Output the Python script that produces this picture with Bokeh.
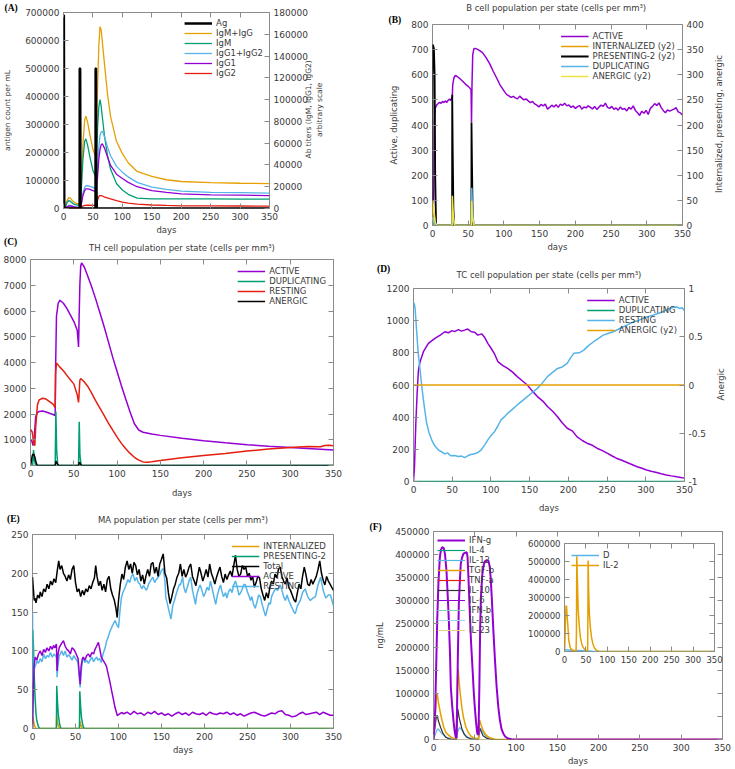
import math
from bokeh.plotting import figure
from bokeh.models import (Range1d, LinearAxis, FixedTicker, NumeralTickFormatter,
                          Legend, LegendItem, Title, Div)
from bokeh.layouts import row, column
from bokeh.embed import file_html
from bokeh.resources import INLINE

FONT = "DejaVu Sans"
SERIF = "Liberation Serif"
TXT = "#3a3a3a"
FRAME = "#8a8a8a"
PURPLE = "#9400d3"
GREEN = "#009e73"
LBLUE = "#56b4e9"
ORANGE = "#e69f00"
YELLOW = "#f0e442"
RED = "#e51e10"
BLACK = "#000000"
NB = "\u00a0"

# ---------------- tick labels ----------------
day_ticks = [0, 50, 100, 150, 200, 250, 300, 350]
a_left_ticks = [0, 100000, 200000, 300000, 400000, 500000, 600000, 700000]
a_right_ticks = [0, 20000, 40000, 60000, 80000, 100000, 120000, 140000, 160000, 180000]
b_left_ticks = [0, 100, 200, 300, 400, 500, 600, 700, 800]
b_right_ticks = [0, 50, 100, 150, 200, 250, 300, 350, 400]
c_ticks = [0, 1000, 2000, 3000, 4000, 5000, 6000, 7000, 8000]
d_left_ticks = [0, 200, 400, 600, 800, 1000, 1200]
d_right_ticks = [-1, -0.5, 0, 0.5, 1]
e_ticks = [0, 50, 100, 150, 200, 250]
f_ticks = [0, 50000, 100000, 150000, 200000, 250000, 300000, 350000, 400000, 450000]
inset_ticks = [0, 100000, 200000, 300000, 400000, 500000, 600000]

# ---------------- (A) antigen and antibodies: (day, value) ----------------
a_ag = [(0, 690000), (0.6, 690000), (1.3, 0), (27.4, 0), (27.6, 500000), (28.3, 500000), (28.9, 0),
        (54.4, 0), (54.6, 500000), (55.2, 500000), (55.7, 100000), (56.6, 0), (350, 0)]
a_igm_igg = [(0, 0), (3, 1200), (6, 7300), (9, 10100), (12, 9300), (16, 6700), (20, 5200), (24, 4300),
             (27, 4600), (28, 4600), (30, 18800), (33, 59200), (36, 81300), (38, 84800), (41, 79100),
             (45, 67400), (50, 54400), (54, 48300), (55, 47800), (56, 65500), (58, 113000), (60, 149000),
             (62, 167000), (64, 164000), (66, 153000), (70, 130500), (75, 104000), (80, 84400), (90, 61700),
             (100, 50400), (110, 42000), (125, 34000), (150, 29500), (175, 26400), (200, 24800),
             (250, 23700), (300, 23200), (350, 22800)]
a_igm = [(0, 0), (3, 1000), (6, 5500), (9, 7300), (12, 6500), (16, 4500), (20, 3500), (24, 3000),
         (27, 3500), (28, 3500), (30, 15000), (33, 45000), (36, 62000), (38, 64000), (41, 58000),
         (45, 47000), (50, 35000), (54, 30000), (55, 30000), (56, 45000), (58, 75000), (60, 93000),
         (62, 100000), (64, 94000), (66, 84000), (70, 65000), (75, 48000), (80, 36000), (90, 23000),
         (100, 17000), (110, 13000), (125, 9500), (150, 8900), (175, 8800), (200, 8800), (250, 8800),
         (300, 8700), (350, 8700)]
a_igg12 = [(0, 0), (3, 200), (6, 1800), (9, 2800), (12, 2800), (16, 2200), (20, 1700), (24, 1300),
           (27, 1100), (28, 1100), (30, 3800), (33, 14200), (36, 19300), (38, 20800), (41, 21100),
           (45, 20400), (50, 19400), (54, 18300), (55, 17800), (56, 20500), (58, 38000), (60, 56000),
           (62, 67000), (64, 70300), (66, 70900), (70, 65500), (75, 56000), (80, 48400), (90, 38700),
           (100, 33400), (110, 29000), (125, 24000), (150, 19700), (175, 17600), (200, 16000),
           (250, 14900), (300, 14500), (350, 14100)]
a_igg1 = [(0, 0), (3, 200), (6, 1500), (9, 2300), (12, 2300), (16, 1800), (20, 1300), (24, 1000),
          (27, 800), (28, 800), (30, 3000), (33, 12000), (36, 16500), (38, 18000), (41, 18100),
          (45, 17500), (50, 16500), (54, 15500), (55, 15000), (56, 17000), (58, 30000), (60, 45000),
          (62, 54000), (64, 58500), (66, 59400), (70, 55000), (75, 47000), (80, 39500), (90, 31500),
          (100, 27500), (110, 24000), (125, 20000), (150, 16500), (175, 14800), (200, 13500),
          (250, 12500), (300, 12200), (350, 11900)]
a_igg2 = [(0, 0), (6, 300), (9, 500), (12, 500), (20, 400), (27, 300), (28, 300), (30, 800), (33, 2200),
          (36, 2800), (41, 3000), (50, 2900), (54, 2800), (56, 3500), (58, 8000), (60, 11000), (62, 11900),
          (64, 11800), (66, 11500), (70, 10500), (80, 8900), (90, 7200), (100, 5900), (110, 5000),
          (125, 4000), (150, 3200), (175, 2800), (200, 2500), (250, 2400), (300, 2300), (350, 2200)]

# ---------------- (B) B cells ----------------
b_active = [(0, 30), (1, 60), (2, 150), (2.8, 420), (4, 468), (6, 480), (8, 486), (10, 490), (12, 486),
            (14, 494), (16, 489), (18, 496), (20, 490), (22, 499), (24, 503), (25.5, 497), (27, 508),
            (27.6, 500), (28.3, 560), (30, 588), (32, 597), (34, 594), (37, 588), (40, 580), (43, 572),
            (46, 563), (49, 556), (52, 548), (54, 540), (54.6, 410), (55.3, 560), (56.3, 680), (58, 704),
            (60, 705), (63, 701), (66, 696), (70, 688), (75, 668), (80, 644), (85, 614), (90, 586),
            (94, 562), (98, 545), (101, 532), (104, 521), (107, 516), (110, 510), (113, 514), (116, 508),
            (119, 504), (122, 515), (125, 507), (128, 500), (131, 504), (134, 496), (137, 489), (140, 494),
            (143, 484), (146, 479), (149, 472), (152, 482), (155, 476), (158, 483), (161, 463), (164, 470),
            (167, 479), (170, 472), (173, 481), (176, 470), (179, 483), (182, 478), (185, 487), (188, 476),
            (191, 480), (194, 470), (197, 476), (200, 466), (203, 473), (206, 477), (209, 463), (212, 472),
            (215, 468), (218, 476), (221, 470), (224, 464), (227, 474), (230, 462), (233, 471), (236, 479),
            (239, 474), (242, 487), (245, 470), (248, 466), (251, 474), (254, 462), (257, 468), (260, 459),
            (263, 472), (266, 462), (269, 466), (272, 456), (275, 470), (278, 463), (281, 476), (284, 458),
            (287, 449), (290, 438), (293, 455), (296, 447), (299, 458), (302, 442), (305, 466), (308, 474),
            (311, 485), (314, 478), (317, 488), (320, 470), (323, 458), (326, 449), (329, 460), (332, 455),
            (335, 459), (338, 463), (341, 469), (344, 452), (347, 448), (350, 440)]
b_present = [(0, 0), (0.2, 360), (1, 358), (2, 352), (3, 300), (3.8, 100), (5, 0), (27.4, 0), (27.6, 260),
             (28.3, 150), (29.3, 30), (30.5, 0), (54.4, 0), (54.6, 205), (55.3, 120), (56.3, 20),
             (57.5, 0), (350, 0)]
b_dup = [(0, 0), (0.5, 33), (2, 18), (4, 0), (27.5, 0), (28, 60), (29, 28), (31, 0), (54.5, 0), (55, 150),
         (56, 60), (58, 0), (350, 0)]
b_anergic = [(0, 0), (0.5, 49), (2, 30), (4, 6), (6, 0), (27.5, 0), (27.8, 59), (29, 22), (31, 0),
             (54.5, 0), (54.8, 49), (56, 15), (58, 0), (350, 0)]
b_intern = [(0, 0), (0.5, 15), (2, 10), (4, 0), (27.5, 0), (27.8, 12), (29, 3), (30.5, 0), (54.5, 0),
            (54.8, 10), (56, 3), (57.5, 0), (350, 0)]

# ---------------- (C) TH cells ----------------
c_active = [(0, 1000), (1.5, 950), (3, 780), (4.5, 1200), (6, 1900), (8, 2050), (10, 2100), (14, 2120),
            (18, 2080), (22, 2030), (26, 1980), (28.5, 1940), (29, 3800), (30, 5800), (32, 6300),
            (34, 6420), (38, 6300), (42, 6100), (46, 5850), (50, 5600), (54, 5250), (55.5, 4600),
            (56, 5500), (57, 7000), (58, 7750), (59, 7870), (62, 7720), (65, 7460), (70, 7000), (75, 6500),
            (80, 5950), (85, 5400), (90, 4800), (95, 4200), (100, 3650), (105, 3100), (110, 2580),
            (115, 2080), (120, 1620), (125, 1380), (130, 1290), (140, 1220), (150, 1170), (175, 1060),
            (200, 960), (225, 880), (250, 810), (275, 750), (300, 700), (325, 650), (350, 600)]
c_resting = [(0, 1400), (2, 1300), (4, 800), (5, 780), (6, 1500), (8, 2350), (10, 2550), (14, 2610),
             (18, 2580), (22, 2480), (26, 2380), (28.5, 2250), (29, 3600), (30, 3980), (34, 3820),
             (38, 3680), (42, 3500), (46, 3330), (50, 3170), (54, 2750), (55.5, 2450), (56, 2700),
             (57, 3300), (58, 3380), (62, 3250), (66, 3080), (70, 2850), (75, 2530), (80, 2240), (85, 1950),
             (90, 1650), (95, 1370), (100, 1100), (105, 860), (110, 650), (115, 470), (120, 320), (125, 210),
             (130, 140), (135, 130), (140, 145), (150, 190), (175, 300), (200, 390), (225, 470), (250, 560),
             (275, 640), (300, 700), (320, 740), (335, 730), (340, 780), (345, 790), (350, 770)]
c_dup = [(0, 0), (2.5, 0), (3.5, 600), (4.5, 200), (6, 0), (28.5, 0), (29.3, 2100), (30.2, 600), (31.5, 0),
         (55.5, 0), (56.3, 1700), (57.1, 400), (58.5, 0), (350, 0)]
c_anergic = [(0, 0), (1, 150), (2, 380), (3, 440), (4, 430), (5, 330), (6, 180), (7, 60), (8, 0),
             (28.5, 0), (29.5, 170), (31, 60), (32.5, 0), (55.5, 0), (56.5, 130), (58, 40), (59.5, 0),
             (350, 0)]

# ---------------- (D) TC cells ----------------
d_active = [(0, 0), (1.3, 93), (3, 362), (4.7, 548), (6.4, 693), (8.5, 745), (12.8, 807), (19.2, 859),
            (27.7, 890), (35, 912), (40.5, 931), (45, 925), (50, 938), (53, 932), (58, 944), (62, 935),
            (66, 941), (70, 948), (74.7, 931), (79, 928), (83, 910), (88, 918), (92, 895), (96, 859),
            (100, 830), (105, 790), (109, 745), (115, 722), (121.6, 703), (128, 680), (134, 652), (140, 628),
            (147, 600), (153, 565), (160, 528), (167, 500), (173, 466), (180, 435), (186, 403), (192, 365),
            (198.5, 331), (205, 315), (211, 279), (218, 255), (224, 238), (231, 225), (237, 207), (244, 192),
            (250, 176), (256, 160), (262, 145), (269, 132), (275, 120), (282, 106), (288, 93), (295, 82),
            (301, 72), (307, 64), (314, 56), (320, 48), (326.5, 41), (333, 35), (340, 29), (345, 25),
            (350, 21)]
d_resting = [(0, 1110), (1, 1105), (2, 1080), (4.3, 921), (6, 800), (8.5, 693), (10.5, 600), (12.8, 507),
             (15, 430), (17, 362), (20, 305), (23.5, 259), (27, 225), (32, 197), (36, 185), (40.5, 172),
             (44, 178), (48, 160), (53, 162), (58, 155), (62, 158), (66, 148), (70, 160), (74, 168),
             (79, 172), (83, 180), (87.5, 197), (92, 228), (96, 259), (100, 285), (104.6, 310), (109, 345),
             (113, 383), (117, 400), (121.6, 424), (128, 450), (134, 476), (140, 500), (147, 528),
             (153, 552), (160, 579), (166, 610), (173, 652), (180, 680), (186, 703), (192, 712),
             (198.5, 734), (203, 770), (207, 797), (214, 800), (220, 817), (226, 845), (232.6, 869),
             (239, 890), (245, 910), (251, 920), (258, 931), (264, 945), (271, 962), (277, 975), (284, 993),
             (290, 1000), (296.6, 1014), (303, 1025), (309, 1034), (316, 1045), (322, 1055), (328, 1070),
             (335, 1082), (340, 1085), (343.6, 1076), (347, 1080), (350, 1061)]
d_dup = [(0, 0), (350, 0)]
d_anergic = [(0, 0), (350, 0)]

# ---------------- (E) macrophages ----------------
e_total = [(0, 195), (1, 180), (2, 165), (3, 168), (4, 162), (6, 172), (8, 168), (9, 176), (11, 170),
           (13, 180), (15, 176), (17, 186), (19, 180), (21, 190), (23, 185), (25, 193), (27, 188), (29, 205),
           (30.5, 216), (32, 205), (34, 210), (36, 200), (38, 196), (40, 190), (42, 198), (44, 192),
           (46, 205), (48, 210), (50, 188), (52, 176), (54, 180), (56, 170), (58, 178), (60, 172), (62, 180),
           (64, 176), (66, 184), (68, 180), (70, 188), (72, 194), (73.5, 210), (75, 196), (77, 184),
           (79, 190), (81, 178), (83, 186), (85, 176), (87, 192), (89, 196), (91, 180), (93, 172), (95, 166),
           (97, 155), (98.5, 143), (100, 165), (102, 185), (104, 199), (106, 192), (108, 208), (110, 216),
           (112, 205), (114, 212), (116, 200), (118, 214), (120, 210), (122, 198), (124, 205), (126, 190),
           (128, 198), (130, 186), (132, 197), (134, 205), (136, 196), (138, 212), (140, 214), (142, 200),
           (144, 208), (146, 196), (148, 212), (150, 218), (152, 225), (154, 200), (156, 194), (158, 175),
           (160, 161), (162, 170), (164, 180), (166, 186), (168, 195), (170, 200), (172, 212), (174, 196),
           (176, 205), (178, 195), (180, 200), (182, 208), (184, 212), (186, 196), (188, 190), (190, 184),
           (192, 196), (194, 208), (196, 200), (198, 190), (200, 197), (202, 205), (204, 195), (206, 212),
           (208, 200), (210, 194), (212, 186), (214, 195), (216, 202), (218, 208), (220, 196), (222, 188),
           (224, 199), (226, 192), (228, 198), (230, 203), (232, 196), (234, 210), (236, 223), (238, 205),
           (240, 196), (242, 199), (244, 210), (246, 205), (248, 208), (250, 196), (252, 200), (254, 191),
           (256, 196), (258, 182), (260, 188), (262, 196), (264, 194), (266, 180), (268, 172), (270, 165),
           (272, 175), (274, 168), (276, 182), (278, 190), (280, 186), (282, 199), (284, 194), (286, 205),
           (288, 208), (290, 196), (292, 190), (294, 186), (296, 194), (298, 182), (300, 178), (302, 172),
           (304, 166), (306, 163), (308, 175), (310, 186), (312, 180), (314, 196), (316, 208), (318, 198),
           (320, 186), (322, 184), (324, 192), (326, 186), (328, 191), (330, 196), (332, 205), (334, 216),
           (336, 200), (338, 191), (340, 185), (342, 196), (344, 190), (346, 186), (348, 182), (350, 178)]
e_resting = [(0, 150), (0.6, 60), (1.4, 74), (3, 80), (5.3, 87), (7, 84), (9, 90), (11, 86), (13, 96),
             (15, 90), (17, 94), (19, 92), (20.8, 98), (23, 92), (25, 96), (27.8, 92), (28.6, 66),
             (29.5, 80), (31, 94), (32.5, 96), (34, 100), (36, 94), (38, 100), (40, 92), (42, 95), (44, 92),
             (46, 88), (48, 94), (50, 90), (51.5, 88), (53, 84), (55.4, 53), (56.5, 72), (58, 86), (59, 92),
             (61, 85), (63, 88), (65, 84), (67, 88), (69, 92), (71, 86), (73, 90), (74.6, 92), (76, 88),
             (78, 90), (80, 85), (82, 96), (84.5, 104), (86, 112), (88, 118), (90.3, 126), (92, 130),
             (94, 135), (96, 139), (98, 134), (100, 130), (102, 155), (103.5, 169), (105, 175), (107, 180),
             (109, 186), (111, 192), (113, 188), (115, 196), (117, 199), (119, 190), (121, 195), (123, 188),
             (125, 186), (127, 180), (129, 184), (132.5, 178), (135, 186), (137, 190), (140, 195),
             (142, 188), (144, 192), (146, 195), (148, 198), (150, 204), (152, 206), (154, 190), (155, 169),
             (157, 160), (159, 150), (161, 141), (163, 158), (165, 165), (167, 173), (169, 180), (171, 186),
             (172, 185), (174.6, 195), (176, 182), (178, 175), (180, 182), (182, 190), (184, 195),
             (186, 178), (188, 168), (189.5, 160), (191, 172), (193, 180), (195, 185), (197, 178),
             (199, 170), (201, 175), (203, 182), (205, 178), (207, 190), (209, 180), (211, 170), (213, 160),
             (215, 172), (217, 180), (218.7, 185), (220, 178), (222, 170), (224.5, 175), (226, 168),
             (228, 176), (230, 180), (232, 175), (234, 185), (236, 190), (238, 182), (240, 172), (242, 175),
             (244, 180), (246, 186), (247.6, 185), (250, 176), (252, 170), (253.5, 165), (255, 170),
             (257, 160), (259, 155), (261, 163), (263, 172), (265, 170), (267, 160), (269, 152), (271, 145),
             (273, 154), (275, 162), (276.5, 160), (278, 170), (280, 175), (282.5, 180), (285, 178),
             (288, 185), (290, 178), (292, 170), (294, 165), (296, 172), (298, 165), (300, 160), (302, 155),
             (304, 150), (305.6, 148), (308, 158), (311.4, 165), (314, 175), (317, 180), (320, 170),
             (323, 165), (326, 168), (329, 170), (332, 185), (335, 195), (338, 178), (341, 168), (344, 172),
             (346.5, 172), (348, 166), (350, 158)]
e_active = [(0, 0), (0.8, 40), (1.8, 80), (3.1, 92), (5, 88), (7, 96), (9, 100), (11, 94), (13, 102),
            (15, 98), (16.7, 104), (19, 100), (21, 106), (23, 102), (24.5, 107), (26, 104), (27.8, 109),
            (28.6, 74), (29.6, 95), (31, 104), (32.5, 107), (34, 110), (36, 113), (38, 106), (40, 102),
            (42, 100), (44, 96), (46, 104), (48, 102), (50, 98), (51.5, 94), (53, 90), (55.4, 57),
            (56.5, 80), (58, 90), (59, 92), (61, 88), (63, 94), (65, 96), (67, 92), (69, 98), (71, 96),
            (72.7, 102), (74.5, 106), (76.6, 111), (78, 104), (80, 92), (82, 88), (84.5, 83.5), (86, 80),
            (88, 70), (90, 60), (92, 48.7), (94, 38), (96, 27), (98.7, 16.4), (100, 18), (103.5, 20.6),
            (106, 19), (110, 21), (114, 18), (118, 22), (122, 19), (126, 20), (130, 17), (134, 21),
            (138, 19), (142, 22), (146, 18), (150, 20), (154, 17), (158, 19), (162, 16), (166, 19),
            (170, 21), (174, 18), (178, 20), (182, 17), (186, 21), (190, 19), (194, 18), (198, 20),
            (202, 17), (206, 21), (210, 19), (214, 18), (218, 20), (222, 19), (226, 21), (230, 18),
            (234, 20), (238, 17), (242, 19), (246, 16), (250, 18), (254, 20), (258, 21), (262, 19),
            (266, 17), (270, 16), (274, 18), (278, 20), (282, 19), (286, 22), (290, 23), (294, 18),
            (298, 17), (302, 15), (306, 16), (310, 19), (314, 21), (318, 18), (322, 19), (326, 20),
            (330, 21), (334, 18), (338, 21), (342, 19), (346, 17), (350, 17)]
e_present = [(0, 0), (0.3, 127), (1, 110), (2, 70), (3, 40), (4, 20), (5, 10), (7, 2), (9, 0), (27.8, 0),
             (28.2, 55), (29, 35), (30, 18), (31.5, 6), (33, 0), (54.6, 0), (55, 48), (56, 28), (57, 14),
             (58.5, 4), (60, 0), (350, 0)]
e_intern = [(0, 0), (0.5, 15), (1.5, 8), (2.5, 3), (4, 0), (27.8, 0), (28.2, 17), (29, 8), (30.5, 2),
            (32, 0), (54.6, 0), (55, 10), (56, 5), (57.5, 1), (59, 0), (350, 0)]

# ---------------- (F) cytokines ----------------
f_ifng = [(0, 0), (2, 60000), (4.5, 257000), (6, 340000), (7.7, 394000), (9, 410000), (10.5, 416000),
          (12.5, 414000), (14, 400000), (15.7, 365600), (17, 320000), (18.6, 257000), (20, 185000),
          (21, 113000), (22.5, 75000), (24.2, 41000), (25.5, 20000), (26.9, 5000), (27.8, 3000),
          (28.5, 60000), (29.5, 180000), (30.7, 294000), (32, 345000), (33, 380000), (34.5, 393000),
          (36.3, 402000), (38.5, 404000), (40.3, 405000), (41.2, 395000), (42, 365000), (43, 320000),
          (44, 272000), (45.5, 210000), (47.4, 149000), (48.7, 105000), (50, 70000), (51.5, 38000),
          (53, 13000), (54.5, 10000), (55.5, 110000), (56.5, 240000), (57.5, 310000), (59, 355000),
          (60.5, 375000), (62, 385000), (64, 388000), (66.5, 387000), (68, 375000), (69.2, 351000),
          (70.5, 310000), (72.5, 236000), (74.5, 170000), (76.5, 113000), (78.5, 70000), (80.5, 41000),
          (82.5, 22000), (84.5, 13000), (87, 6000), (90.6, 2000), (95, 0), (350, 0)]
f_tgfb = [(0, 0), (2, 50000), (3.5, 90000), (4.5, 100000), (6, 80000), (8.5, 56000), (10.5, 40000),
          (12.5, 26600), (15, 15000), (18.6, 9000), (22, 4000), (27.5, 1000), (28.2, 60000),
          (29.2, 140000), (29.9, 153000), (31, 125000), (32.4, 99500), (34.3, 70000), (36.3, 48000),
          (39, 28000), (42, 15800), (45, 8000), (48, 4000), (54.5, 1500), (55.3, 30000), (56, 42600),
          (57.5, 32000), (60, 19500), (63, 11000), (66, 6000), (70, 2500), (75, 0), (350, 0)]
f_il10 = [(0, 0), (2, 30000), (3.5, 50000), (4.5, 52000), (6, 40000), (8.5, 26600), (11, 15000),
          (14.6, 5000), (18, 2000), (22, 500), (27.8, 0), (28.5, 30000), (29.5, 65600), (31, 48000),
          (34.3, 24000), (37, 12000), (40, 5000), (45, 1500), (54.5, 500), (55.3, 26600), (56.5, 22000),
          (60, 8000), (64, 3000), (68, 1000), (72, 0), (350, 0)]
f_il12 = [(0, 0), (2, 10000), (4, 20000), (5.3, 23000), (7, 20000), (9, 15000), (12, 10000), (16, 5000),
          (20, 2000), (25, 800), (27.8, 500), (29, 15000), (31.5, 26000), (34, 22000), (38, 10000),
          (42, 5000), (46, 2000), (54.5, 1000), (55.5, 15000), (57, 24000), (60, 15000), (64, 6000),
          (70, 1500), (76, 0), (350, 0)]
f_flat = [(0, 0), (350, 0)]
inset_il2 = [(0, 0), (1, 50000), (2.5, 200000), (3.5, 250000), (4.7, 254500), (6, 200000), (7.5, 154000),
             (10, 61300), (13, 25000), (15, 14900), (20, 5000), (27, 2000), (27.8, 100000), (28.7, 529400),
             (30, 400000), (32, 228500), (34.5, 140000), (37, 79900), (40, 45000), (43, 24100), (48, 8000),
             (54, 3000), (54.6, 200000), (55.1, 505000), (56.5, 330000), (58, 210000), (60.5, 130000),
             (63, 79000), (66, 45000), (70, 20000), (75, 6000), (80, 1500), (90, 0), (350, 0)]
inset_d = [(0, 10000), (10, 8000), (20, 6000), (30, 5000), (45, 3500), (55, 3000), (65, 1500), (80, 300),
           (100, 0), (350, 0)]


# ---------------- helpers ----------------
def xy(pairs):
    return [p[0] for p in pairs], [p[1] for p in pairs]


def style_axis(ax, ticks, fmt, tick_size="9px", label_size="8.5px"):
    ax.ticker = FixedTicker(ticks=ticks)
    ax.formatter = NumeralTickFormatter(format=fmt)
    ax.major_tick_in = 5
    ax.major_tick_out = 0
    ax.major_tick_line_color = FRAME
    ax.minor_tick_line_color = None
    ax.axis_line_color = None
    ax.major_label_text_font = FONT
    ax.major_label_text_font_size = tick_size
    ax.major_label_text_color = TXT
    ax.major_label_standoff = 4
    ax.axis_label_text_font = FONT
    ax.axis_label_text_font_size = label_size
    ax.axis_label_text_font_style = "normal"
    ax.axis_label_text_color = TXT
    ax.axis_label_standoff = 3


def mirror(p, side, ticks, range_name=None):
    kw = {"y_range_name": range_name} if range_name else {}
    ax = LinearAxis(**kw)
    style_axis(ax, ticks, "0")
    ax.major_label_overrides = {t: "" for t in ticks}
    ax.major_label_text_font_size = "0px"
    ax.major_label_standoff = 0
    p.add_layout(ax, side)


def add_title(p, text, align="center", offset=0, tag=False, standoff=0, valign="bottom"):
    t = Title(text=text, align=align, offset=offset, standoff=standoff, vertical_align=valign,
              text_font=SERIF if tag else FONT,
              text_font_size="9.5px" if tag else "8.5px",
              text_font_style="bold" if tag else "normal",
              text_color="#000000" if tag else TXT)
    p.add_layout(t, "above")


def tag_div(text, mt, ml):
    h = 12
    return Div(text=text, width=24, height=h, margin=(mt, 0, -(mt + h), ml),
               styles={"font-family": SERIF, "font-weight": "bold", "font-size": "9.5px",
                       "line-height": "12px", "color": "#000000"})


def base_fig(w, h, ymin, ymax, yticks, yfmt, borders, ylabel=None, mirror_right=True, days_standoff=2):
    l, r, t, b = borders
    p = figure(width=w, height=h, x_range=Range1d(0, 350), y_range=Range1d(ymin, ymax),
               output_backend="svg", toolbar_location=None,
               min_border_left=l, min_border_right=r, min_border_top=t, min_border_bottom=b)
    try:
        p.frame_align = False
    except Exception:
        pass
    p.xgrid.grid_line_color = None
    p.ygrid.grid_line_color = None
    p.outline_line_color = FRAME
    p.outline_line_width = 1
    p.background_fill_color = "white"
    p.border_fill_color = "white"
    style_axis(p.xaxis[0], day_ticks, "0")
    p.xaxis[0].axis_label = "days"
    p.xaxis[0].axis_label_standoff = days_standoff
    style_axis(p.yaxis[0], yticks, yfmt)
    if ylabel:
        p.yaxis[0].axis_label = ylabel
    mirror(p, "above", day_ticks)
    if mirror_right:
        mirror(p, "right", yticks)
    return p


def add_right(p, name, lo, hi, ticks, fmt, label, standoff=8, label_size="8.5px"):
    p.extra_y_ranges = {name: Range1d(lo, hi)}
    ax = LinearAxis(y_range_name=name)
    style_axis(ax, ticks, fmt, label_size=label_size)
    ax.axis_label = label
    ax.axis_label_standoff = standoff
    try:
        ax.axis_label_orientation = math.pi / 2
    except Exception:
        pass
    try:
        ax.axis_label_align = "start"
    except Exception:
        pass
    p.add_layout(ax, "right")


def line(p, pairs, color, width=1.5, range_name=None):
    xs, ys = xy(pairs)
    kw = {"y_range_name": range_name} if range_name else {}
    return p.line(xs, ys, line_color=color, line_width=width, **kw)


def legend(p, entries, location, margin, level=None):
    items = [LegendItem(label=lab, renderers=[r]) for lab, r in entries]
    lg = Legend(items=items, location=location, margin=margin, padding=1, spacing=0,
                label_text_font=FONT, label_text_font_size="8.5px", label_text_color=TXT,
                label_text_line_height=1.0, glyph_width=28, glyph_height=10, label_height=10,
                label_standoff=4, background_fill_alpha=0, border_line_alpha=0)
    if level:
        lg.level = level
    p.add_layout(lg)


# ---------------- (A) ----------------
pA = base_fig(365, 237, 0, 700000, a_left_ticks, "0", (61, 96, 12, 29), mirror_right=False)
pA.yaxis[0].axis_label = "antigen count per mL"
pA.yaxis[0].axis_label_text_font_size = "7.5px"
pA.yaxis[0].axis_label_standoff = 10
add_right(pA, "ab", 0, 180000, a_right_ticks, "0",
          NB * 21 + "Ab titers (IgM, IgG1, IgG2)\n" + NB * 30 + "arbitrary scale",
          standoff=3, label_size="7.5px")
add_title(pA, "(A)", "left", -59, tag=True)
rA2 = line(pA, a_igm_igg, ORANGE, 1.3, "ab")
rA3 = line(pA, a_igm, GREEN, 1.3, "ab")
rA4 = line(pA, a_igg12, LBLUE, 1.3, "ab")
rA5 = line(pA, a_igg1, PURPLE, 1.3, "ab")
rA6 = line(pA, a_igg2, RED, 1.3, "ab")
rA1 = line(pA, a_ag, BLACK, 2.5)
legend(pA, [("Ag", rA1), ("IgM+IgG", rA2), ("IgM", rA3), ("IgG1+IgG2", rA4), ("IgG1", rA5),
            ("IgG2", rA6)], "top_right", 5)

# ---------------- (B) ----------------
pB = base_fig(369, 262, 0, 800, b_left_ticks, "0", (67, 52, 22, 37),
              ylabel="Active, duplicating", mirror_right=False)
pB.yaxis[0].axis_label_standoff = 9
add_right(pB, "y2", 0, 400, b_right_ticks, "0", NB * 12 + "Internalized, presenting, anergic",
          standoff=12)
add_title(pB, "(B)", "left", -44, tag=True)
add_title(pB, "B cell population  per state (cells per mm\u00b3)")
rB1 = line(pB, b_active, PURPLE, 1.5)
rB2 = line(pB, b_intern, ORANGE, 1.5, "y2")
rB3 = line(pB, b_present, BLACK, 1.8, "y2")
rB4 = line(pB, b_dup, LBLUE, 1.5)
rB5 = line(pB, b_anergic, YELLOW, 1.5, "y2")
legend(pB, [("ACTIVE", rB1), ("INTERNALIZED (y2)", rB2), ("PRESENTING-2 (y2)", rB3),
            ("DUPLICATING", rB4), ("ANERGIC (y2)", rB5)], "top_right", 6)

# ---------------- (C) ----------------
pC = base_fig(365, 263, 0, 8000, c_ticks, "0", (30, 32, 22, 33), days_standoff=8)
add_title(pC, "TH cell population per state (cells per mm\u00b3)", standoff=10, valign="top")
rC1 = line(pC, c_active, PURPLE, 1.5)
rC2 = line(pC, c_dup, GREEN, 1.5)
rC3 = line(pC, c_resting, RED, 1.5)
rC4 = line(pC, c_anergic, BLACK, 1.5)
legend(pC, [("ACTIVE", rC1), ("DUPLICATING", rC2), ("RESTING", rC3), ("ANERGIC", rC4)],
       "top_right", 6)

# ---------------- (D) ----------------
pD = base_fig(369, 253, 0, 1200, d_left_ticks, "0", (48, 47, 26, 33), mirror_right=False,
              days_standoff=7)
add_right(pD, "y2", -1, 1, d_right_ticks, "0.[0]", NB * 30 + "Anergic", standoff=12)
add_title(pD, "TC cell population per state (cells per mm\u00b3)", standoff=14, valign="top")
rD1 = line(pD, d_active, PURPLE, 1.5)
rD2 = line(pD, d_dup, GREEN, 1.5)
rD3 = line(pD, d_resting, LBLUE, 1.5)
rD4 = line(pD, d_anergic, ORANGE, 1.5, "y2")
legend(pD, [("ACTIVE", rD1), ("DUPLICATING", rD2), ("RESTING", rD3), ("ANERGIC (y2)", rD4)],
       "top_right", 6)

# ---------------- (E) ----------------
pE = base_fig(365, 268, 0, 250, e_ticks, "0", (32, 32, 34, 40))
add_title(pE, "MA population per state (cells per mm\u00b3)", standoff=16, valign="top")
rE1 = line(pE, e_intern, ORANGE, 1.5)
rE2 = line(pE, e_present, GREEN, 1.5)
rE5 = line(pE, e_resting, LBLUE, 1.5)
rE4 = line(pE, e_active, PURPLE, 1.5)
rE3 = line(pE, e_total, BLACK, 1.5)
legend(pE, [("INTERNALIZED", rE1), ("PRESENTING-2", rE2), ("Total", rE3), ("ACTIVE", rE4),
            ("RESTING", rE5)], "top_right", 6, level="underlay")

# ---------------- (F) ----------------
pF = base_fig(369, 253, 0, 450000, f_ticks, "0", (68, 12, 16, 29), ylabel="ng/mL")
pF.yaxis[0].axis_label_standoff = 7
add_title(pF, "(F)", "left", -64, tag=True)
rF4 = line(pF, f_flat, GREEN, 1.2)
rF5 = line(pF, f_flat, RED, 1.2)
rF7 = line(pF, f_flat, PURPLE, 1.0)
rF8 = line(pF, f_flat, "#7fcfb0", 1.0)
rF9 = line(pF, f_flat, "#9fd3f2", 1.0)
rF10 = line(pF, f_flat, "#f3cf80", 1.0)
rF3 = line(pF, f_il12, LBLUE, 1.2)
rF6 = line(pF, f_il10, "#333333", 1.2)
rF2 = line(pF, f_tgfb, ORANGE, 1.5)
rF1 = line(pF, f_ifng, PURPLE, 2.0)
legend(pF, [("IFN-g", rF1), ("IL-4", rF4), ("IL-12", rF3), ("TGF-b", rF2), ("TNF-a", rF5),
            ("IL-10", rF6), ("IL-6", rF7), ("IFN-b", rF8), ("IL-18", rF9), ("IL-23", rF10)],
       "top_left", 3)

# inset (overlaid on F)
pI = figure(width=199, height=130, x_range=Range1d(0, 350), y_range=Range1d(0, 600000),
            output_backend="svg", toolbar_location=None,
            min_border_left=39, min_border_right=10, min_border_top=5, min_border_bottom=17)
try:
    pI.frame_align = False
except Exception:
    pass
pI.xgrid.grid_line_color = None
pI.ygrid.grid_line_color = None
pI.outline_line_color = FRAME
pI.background_fill_color = "white"
pI.border_fill_alpha = 0
style_axis(pI.xaxis[0], day_ticks, "0", tick_size="8.5px")
style_axis(pI.yaxis[0], inset_ticks, "0", tick_size="8.5px")
mirror(pI, "above", day_ticks)
mirror(pI, "right", inset_ticks)
rI1 = line(pI, inset_d, LBLUE, 1.5)
rI2 = line(pI, inset_il2, ORANGE, 1.5)
legend(pI, [("D", rI1), ("IL-2", rI2)], "top_left", 6)
pI.margin = (-230, 0, 100, 160)

# panel tags (overlaid)
divC = tag_div("(C)", 236 - 500, 4)
divE = tag_div("(E)", 513 - 768, 7)
divD = tag_div("(D)", 263 - 515, 12)

layout = row(column(pA, pC, divC, pE, divE), column(pB, pD, divD, pF, pI))
open("out.html", "w").write(file_html(layout, INLINE))
